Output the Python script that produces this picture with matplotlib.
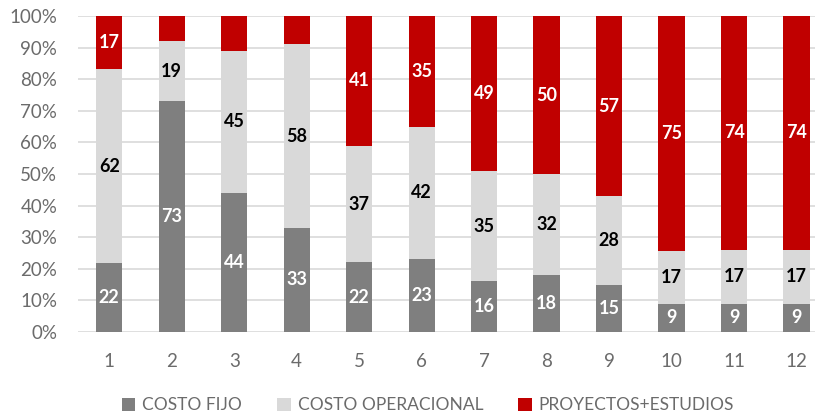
import numpy as np
import matplotlib.pyplot as plt

plt.rcParams['font.family'] = ['Lato', 'DejaVu Sans']

categorias = ['1', '2', '3', '4', '5', '6', '7', '8', '9', '10', '11', '12']
costo_fijo = [22, 73, 44, 33, 22, 23, 16, 18, 15, 9, 9, 9]
costo_operacional = [62, 19, 45, 58, 37, 42, 35, 32, 28, 17, 17, 17]
proyectos = [17, 8, 11, 9, 41, 35, 49, 50, 57, 75, 74, 74]
# the red segments of bars 2-4 carry no label in the original
mostrar_proyectos = [True, False, False, False] + [True] * 8
series_names = ['COSTO FIJO', 'COSTO OPERACIONAL', 'PROYECTOS+ESTUDIOS']

colores = ['#7F7F7F', '#D9D9D9', '#C00000']
label_colors = ['white', 'black', 'white']

data = np.array([costo_fijo, costo_operacional, proyectos], dtype=float)
pct = data / data.sum(axis=0) * 100
mostrar = [[True] * 12, [True] * 12, mostrar_proyectos]

fig = plt.figure(figsize=(8.15, 4.18), dpi=100)
ax = fig.add_axes([0.0957, 0.2057, 0.920, 0.756])

x = np.arange(len(categorias))
bottom = np.zeros(len(categorias))
for i in range(3):
    ax.bar(x, pct[i], bottom=bottom, width=0.42, color=colores[i],
           label=series_names[i], zorder=3)
    for j in range(len(categorias)):
        if mostrar[i][j]:
            ax.text(x[j], bottom[j] + pct[i, j] / 2, '%d' % data[i, j],
                    ha='center', va='center', fontsize=13, fontweight='bold',
                    color=label_colors[i], zorder=4)
    bottom += pct[i]

ax.set_xlim(-0.5, len(categorias) - 0.5)
ax.set_ylim(0, 100)
ax.set_yticks(np.arange(0, 101, 10))
ax.set_yticklabels(['%d%%' % v for v in range(0, 101, 10)])
ax.set_xticks(x)
ax.set_xticklabels(categorias)
ax.tick_params(axis='both', length=0, labelsize=13.5, colors='#6b6b6b')
ax.tick_params(axis='x', pad=15)
ax.tick_params(axis='y', pad=15)
ax.grid(axis='y', color='#D9D9D9', linewidth=1.2, zorder=0)
for s in ax.spines.values():
    s.set_visible(False)

leg = fig.legend(loc='center', bbox_to_anchor=(0.525, 0.03), ncol=3,
                 frameon=False, fontsize=12.5, handlelength=0.8,
                 handleheight=0.8, handletextpad=0.4, columnspacing=2.0)
for t in leg.get_texts():
    t.set_color('#6b6b6b')

fig.savefig('out.png', dpi=100)
